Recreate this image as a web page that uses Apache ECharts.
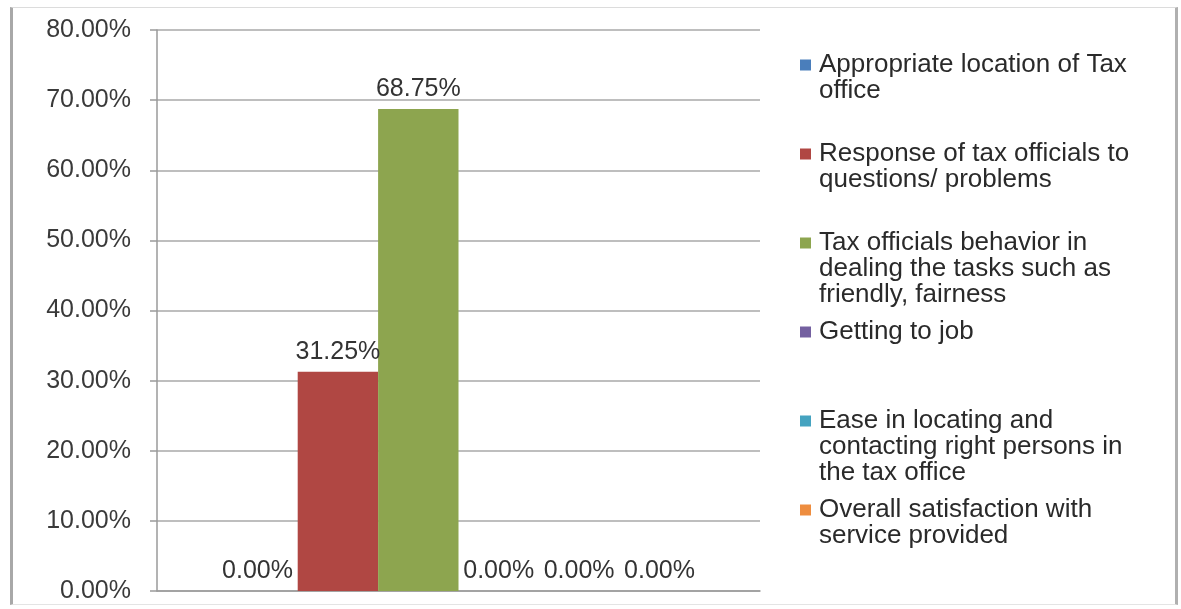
<!DOCTYPE html>
<html>
<head>
<meta charset="utf-8">
<script src="https://cdn.jsdelivr.net/npm/echarts@6/dist/echarts.min.js"></script>
<style>
  html, body { margin: 0; padding: 0; background: #fff; }
  #frame {
    position: absolute; left: 10px; top: 7px; width: 1168px; height: 598px;
    border-left: 3px solid #a8a8a8; border-right: 3px solid #b0b0b0;
    border-top: 1px solid #dcdcdc; border-bottom: 1px solid #e4e4e4;
    box-sizing: border-box;
  }
  #chart { position: absolute; left: 0; top: 0; width: 1181px; height: 609px; }
</style>
</head>
<body>
<div id="frame"></div>
<div id="chart"></div>
<script>
const categories = [""];
const seriesNames = [
  "Appropriate location of Tax office",
  "Response of tax officials to questions/ problems",
  "Tax officials behavior in dealing the tasks such as friendly, fairness",
  "Getting to job",
  "Ease in locating and contacting right persons in the tax office",
  "Overall satisfaction with service provided"
];
const seriesValues = [0, 31.25, 68.75, 0, 0, 0];
const seriesColors = ["#4A7EBB", "#B04743", "#8DA54F", "#7460A0", "#45A3C0", "#EE8D3F"];
const yTicks = { min: 0, max: 80, interval: 10 };

const FONT = "Liberation Sans";
const FS = 25;

// greedy wrap by character count
function wrap(text, maxChars) {
  const words = text.split(" ");
  const lines = [];
  let cur = "";
  words.forEach((w) => {
    const next = cur ? cur + " " + w : w;
    if (next.length > maxChars && cur) {
      lines.push(cur);
      cur = w;
    } else {
      cur = next;
    }
  });
  if (cur) lines.push(cur);
  return lines;
}

const rich = { pad: { width: 19 }, gap: { width: 8 } };
seriesColors.forEach((c, i) => {
  rich["sq" + i] = { width: 11, height: 11, backgroundColor: c, verticalAlign: "middle" };
});

const chart = echarts.init(document.getElementById("chart"), null, { renderer: "canvas" });

chart.setOption({
  backgroundColor: "transparent",
  animation: false,
  textStyle: { fontFamily: FONT },
  grid: { left: 157, right: 421, top: 30, bottom: 18, containLabel: false },
  legend: {
    orient: "vertical",
    left: 790,
    top: 47,
    icon: "none",
    itemWidth: 0,
    itemHeight: 0,
    itemGap: 11,
    selectedMode: false,
    data: seriesNames,
    formatter: (name) => {
      const idx = seriesNames.indexOf(name);
      return wrap(name, 28)
        .map((l, i) => (i === 0 ? "{sq" + idx + "|}{gap|}" : "{pad|}") + l)
        .join("\n");
    },
    textStyle: {
      fontFamily: FONT,
      fontSize: 26,
      color: "#2a2a2a",
      lineHeight: 26,
      height: 78,
      rich: rich
    }
  },
  xAxis: {
    type: "category",
    data: categories,
    axisLine: { show: true, lineStyle: { color: "#9a9a9a", width: 1.5 } },
    axisTick: { show: false },
    axisLabel: { show: false }
  },
  yAxis: {
    type: "value",
    min: yTicks.min,
    max: yTicks.max,
    interval: yTicks.interval,
    axisLine: { show: true, lineStyle: { color: "#9a9a9a", width: 1.5 } },
    axisTick: { show: true, length: 7, lineStyle: { color: "#9a9a9a", width: 1.5 } },
    axisLabel: {
      margin: 26,
      fontFamily: FONT,
      fontSize: FS,
      color: "#3a3a3a",
      formatter: (v) => v.toFixed(2) + "%"
    },
    splitLine: { lineStyle: { color: "#a8a8a8", width: 1.5 } }
  },
  series: seriesNames.map((name, i) => ({
    name: name,
    type: "bar",
    data: [seriesValues[i]],
    barGap: "0%",
    barCategoryGap: "20%",
    itemStyle: { color: seriesColors[i] },
    label: {
      show: true,
      position: "top",
      distance: 7,
      fontFamily: FONT,
      fontSize: FS,
      color: "#333",
      formatter: (p) => p.value.toFixed(2) + "%"
    }
  }))
});

window.addEventListener("resize", () => chart.resize());
</script>
</body>
</html>
